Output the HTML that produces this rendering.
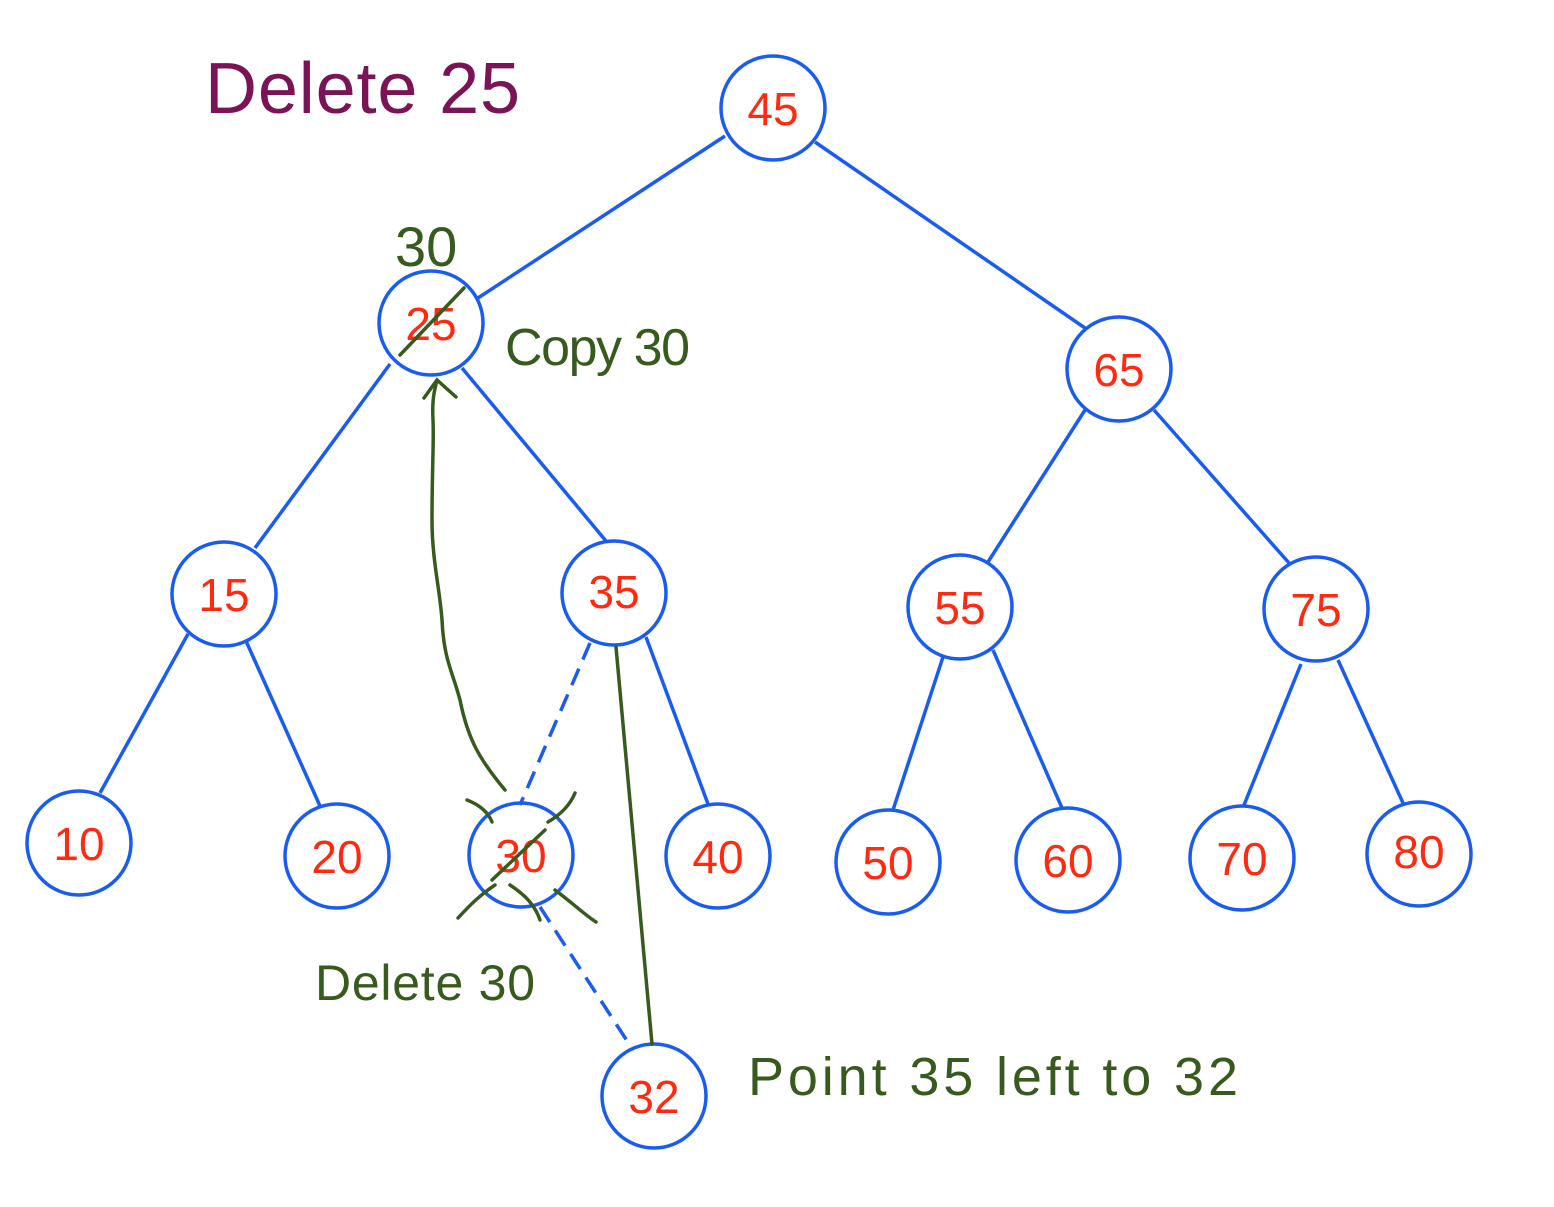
<!DOCTYPE html>
<html><head><meta charset="utf-8"><style>html,body{margin:0;padding:0;background:#fff;}svg{display:block}</style></head>
<body>
<svg width="1554" height="1207" viewBox="0 0 1554 1207" xmlns="http://www.w3.org/2000/svg">
<g stroke="#1a5cf0" stroke-width="3.5" fill="none">
<line x1="725" y1="136" x2="478" y2="298"/>
<line x1="815" y1="142" x2="1085" y2="328"/>
<line x1="390" y1="364" x2="255" y2="548"/>
<line x1="462" y1="368" x2="606" y2="541"/>
<line x1="1085" y1="410" x2="988" y2="562"/>
<line x1="1154" y1="410" x2="1289" y2="563"/>
<line x1="188" y1="634" x2="100" y2="793"/>
<line x1="246" y1="641" x2="320" y2="806"/>
<line x1="590" y1="643" x2="520" y2="805" stroke-dasharray="18,10"/>
<line x1="646" y1="637" x2="708" y2="804"/>
<line x1="540" y1="907" x2="633" y2="1050" stroke-dasharray="18,10"/>
<line x1="943" y1="657" x2="893" y2="810"/>
<line x1="993" y1="650" x2="1062" y2="808"/>
<line x1="1301" y1="664" x2="1244" y2="805"/>
<line x1="1338" y1="660" x2="1403" y2="803"/>
<circle cx="773" cy="108" r="52"/>
<circle cx="431" cy="323" r="52"/>
<circle cx="1119" cy="369" r="52"/>
<circle cx="224" cy="594" r="52"/>
<circle cx="614" cy="593" r="52"/>
<circle cx="960" cy="607" r="52"/>
<circle cx="1316" cy="609" r="52"/>
<circle cx="79" cy="843" r="52"/>
<circle cx="337" cy="856" r="52"/>
<circle cx="521" cy="855" r="52"/>
<circle cx="718" cy="856" r="52"/>
<circle cx="888" cy="862" r="52"/>
<circle cx="1068" cy="860" r="52"/>
<circle cx="1242" cy="858" r="52"/>
<circle cx="1419" cy="854" r="52"/>
<circle cx="654" cy="1096" r="52"/>
</g>
<g fill="#ff2a10" font-family="Liberation Sans, sans-serif" font-size="46" text-anchor="middle">
<text x="773" y="125">45</text>
<text x="431" y="340">25</text>
<text x="1119" y="386">65</text>
<text x="224" y="611">15</text>
<text x="614" y="608">35</text>
<text x="960" y="624">55</text>
<text x="1316" y="626">75</text>
<text x="79" y="860">10</text>
<text x="337" y="873">20</text>
<text x="521" y="872">30</text>
<text x="718" y="873">40</text>
<text x="888" y="879">50</text>
<text x="1068" y="877">60</text>
<text x="1242" y="875">70</text>
<text x="1419" y="868">80</text>
<text x="654" y="1113">32</text>
</g>
<g stroke="#375a1e" stroke-width="3.5" fill="none" stroke-linecap="round">
<line x1="400" y1="355" x2="464" y2="288"/>
<line x1="616" y1="647" x2="652" y2="1044"/>
<path d="M505,790 C480,760 468,740 460,700 C452,670 444,660 442,620 C440,590 432,560 432,520 C432,470 434,440 433,420 C432,400 434,392 437,380"/>
<path d="M424,398 L437,380 L456,397"/>
<path d="M467,800 C480,805 488,812 492,822 M510,885 C525,895 535,905 540,920 M458,918 C470,905 480,895 495,885"/>
<path d="M575,793 C570,805 560,815 548,822 M555,890 C575,905 585,915 596,922"/>
<line x1="492" y1="880" x2="545" y2="830"/>
</g>
<g fill="#375a1e" font-family="Liberation Sans, sans-serif">
<text x="395" y="266" font-size="56">30</text>
<text x="505" y="365" font-size="52" textLength="185">Copy 30</text>
<text x="315" y="1000" font-size="50" textLength="220">Delete 30</text>
<text x="748" y="1095" font-size="54" textLength="490">Point 35 left to 32</text>
</g>
<text x="205" y="113" fill="#7a1456" font-family="Liberation Sans, sans-serif" font-size="72" textLength="315">Delete  25</text>
</svg>
</body></html>
